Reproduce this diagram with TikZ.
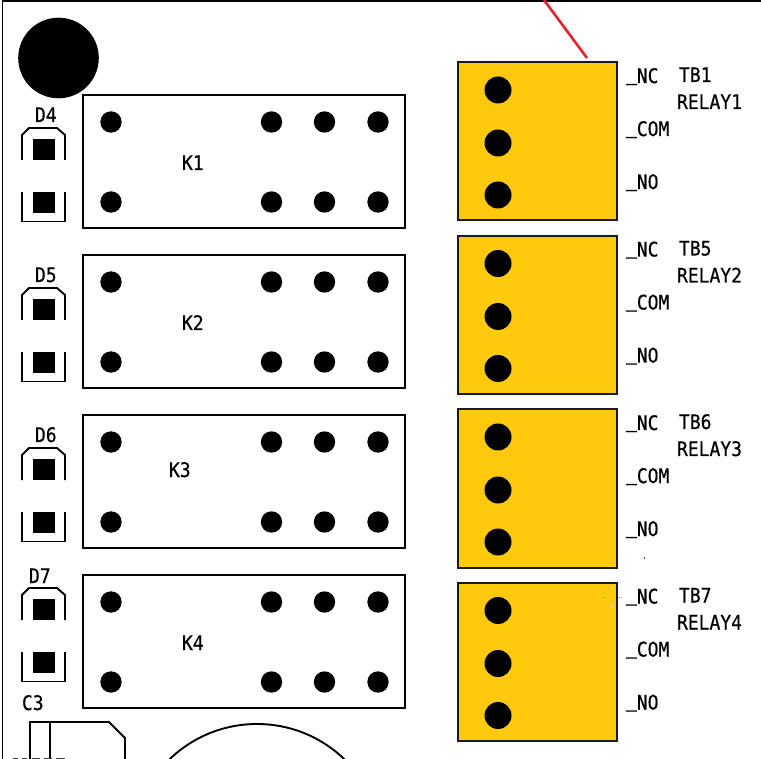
\documentclass[tikz,border=0pt]{standalone}
\usepackage{fontspec}
\newfontfamily\cadfont[FakeBold=0.6]{DejaVu Sans Mono}
\definecolor{blockyellow}{HTML}{FFC90E}
\definecolor{linegrey}{HTML}{1A1A1A}
\definecolor{leadred}{HTML}{E8202A}
\tikzset{
  outline/.style={draw=black,line width=1.9pt},
  blockbox/.style={draw=linegrey,line width=2pt,fill=blockyellow},
  pad/.style={fill=black},
  cadtext/.style={anchor=base west,inner sep=0pt,outer sep=0pt,font=\cadfont\fontsize{20}{20}\selectfont,xscale=0.9,text=black},
  speck/.style={fill=black!75},
  paleSpeck/.style={fill=white!75!blockyellow},
}
\newcommand{\uscore}{\raisebox{4.5pt}{\scalebox{1}[1.4]{\_}}}
\newcommand{\relayblock}[1]{%
  \begin{scope}[yshift=-#1pt]
    \draw[outline] (83,95) rectangle (405,228);
    \foreach \px in {111,271.5,324.5,378} \foreach \py in {122,202}
      \fill[pad] (\px,\py) circle (10.7);
  \end{scope}
}
\newcommand{\diodeblock}[1]{%
  \begin{scope}[yshift=-#1pt]
    \draw[outline] (22,160) -- (22,135) -- (29,128) -- (57,128) -- (65,135) -- (65,160);
    \draw[outline] (22,192) -- (22,221.5) -- (65,221.5) -- (65,192);
    \fill[pad] (33,139) rectangle (55,160);
    \fill[pad] (33,192) rectangle (55,213);
  \end{scope}
}
\newcommand{\terminalblock}[1]{%
  \begin{scope}[yshift=-#1pt]
    \draw[blockbox] (458,62.5) rectangle (617,220.5);
    \foreach \py in {90,143,195} \fill[pad] (498,\py) circle (13.5);
  \end{scope}
}
\newcommand{\cadlabel}[3]{\node[cadtext] at (#1,#2) {#3};}
\begin{document}
\begin{tikzpicture}[x=1pt,y=-1pt]
\useasboundingbox (0,0) rectangle (761,759);
\fill[white] (0,0) rectangle (761,759);
\begin{scope}
\clip (0,0) rectangle (761,759);
\draw[outline] (2.5,759) -- (2.5,1) -- (761,1);
\fill[black] (58.5,58) circle (40.3);
\relayblock{0}\relayblock{160}\relayblock{320}\relayblock{480}
\diodeblock{0}\diodeblock{160}\diodeblock{320}\diodeblock{460}
\terminalblock{0}\terminalblock{173.5}\terminalblock{347}\terminalblock{520.5}
\draw[leadred,line width=2.6pt] (544,0) -- (587,58);
\draw[outline] (30,765) -- (30,722) -- (109,722) -- (125,738) -- (125,765);
\draw[outline] (50,722) -- (50,765);
\draw[outline] (257,850) circle (126);
% cut-off marks at the lower edge
\foreach \sx/\ex in {13/18,22/27,32/40,44/52,56/65} \fill[speck] (\sx,757.8) rectangle (\ex,759);
% stray specks
\fill[speck] (643.6,557.4) rectangle (645.2,559);
\foreach \qx/\qy in {611.7/587,611.7/589,611.7/597,611.7/605,611.7/607} \fill[paleSpeck] (\qx,\qy) rectangle +(1,1);
\foreach \qx/\qy in {602/597,604/597,619/597,621/597} \fill[black!40] (\qx,\qy) rectangle +(1,1);
\end{scope}
\cadlabel{35}{122}{D4}\cadlabel{35}{282}{D5}\cadlabel{35}{442}{D6}\cadlabel{29}{583}{D7}
\cadlabel{22}{710}{C3}
\cadlabel{182}{170}{K1}\cadlabel{182}{330}{K2}\cadlabel{169}{477}{K3}\cadlabel{182}{650}{K4}
\foreach \dy/\tb/\rl in {0/TB1/RELAY1,173.5/TB5/RELAY2,347/TB6/RELAY3,520.5/TB7/RELAY4}{
  \pgfmathsetmacro{\ya}{83+\dy}\pgfmathsetmacro{\yb}{136+\dy}\pgfmathsetmacro{\yc}{189+\dy}
  \pgfmathsetmacro{\yd}{82+\dy}\pgfmathsetmacro{\ye}{109+\dy}
  \cadlabel{626}{\ya}{\uscore NC}\cadlabel{626}{\yb}{\uscore COM}\cadlabel{626}{\yc}{\uscore NO}
  \cadlabel{679}{\yd}{\tb}\cadlabel{677}{\ye}{\rl}
}
\end{tikzpicture}
\end{document}
